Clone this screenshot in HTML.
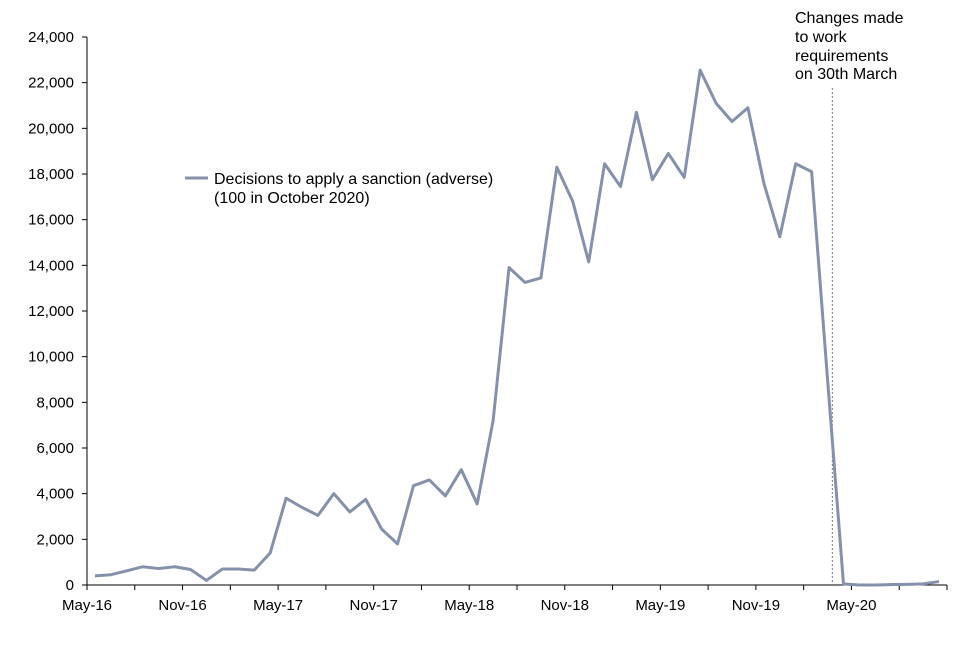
<!DOCTYPE html>
<html><head><meta charset="utf-8"><style>
body{margin:0;background:#fff;}
svg text{font-family:"Liberation Sans",Arial,sans-serif;font-size:15px;fill:#000;}
svg text.big{font-size:16px;}
</style></head><body>
<svg id="chart" width="960" height="640" viewBox="0 0 960 640" xmlns="http://www.w3.org/2000/svg">
<g id="axes"></g>
<g id="series"></g>
<g>
<line x1="185" y1="178" x2="208" y2="178" stroke="#8591aa" stroke-width="3"/>
<text class="big" x="214" y="184">Decisions to apply a sanction (adverse)</text>
<text class="big" x="214" y="203">(100 in October 2020)</text>
</g>
<g>
<text class="big" x="795" y="23">Changes made</text>
<text class="big" x="795" y="42">to work</text>
<text class="big" x="795" y="61">requirements</text>
<text class="big" x="795" y="79">on 30th March</text>
</g>
</svg>
<script>
const months = ["May-16","Jun-16","Jul-16","Aug-16","Sep-16","Oct-16","Nov-16","Dec-16","Jan-17","Feb-17","Mar-17","Apr-17","May-17","Jun-17","Jul-17","Aug-17","Sep-17","Oct-17","Nov-17","Dec-17","Jan-18","Feb-18","Mar-18","Apr-18","May-18","Jun-18","Jul-18","Aug-18","Sep-18","Oct-18","Nov-18","Dec-18","Jan-19","Feb-19","Mar-19","Apr-19","May-19","Jun-19","Jul-19","Aug-19","Sep-19","Oct-19","Nov-19","Dec-19","Jan-20","Feb-20","Mar-20","Apr-20","May-20","Jun-20","Jul-20","Aug-20","Sep-20","Oct-20"];
const values = [400,450,620,800,720,800,680,200,700,700,650,1400,3800,3400,3050,4000,3200,3750,2450,1800,4350,4600,3900,5050,3550,7200,13900,13250,13450,18300,16800,14150,18450,17450,20700,17750,18900,17850,22550,21100,20300,20900,17600,15250,18450,18100,9000,50,0,0,20,30,50,150];
const yTicks = [0,2000,4000,6000,8000,10000,12000,14000,16000,18000,20000,22000,24000];
const xLabels = ["May-16","Nov-16","May-17","Nov-17","May-18","Nov-18","May-19","Nov-19","May-20"];
const markerMonth = 46.8;

const NS="http://www.w3.org/2000/svg";
const x0=87,x1=947,y0=585,y1=37,yMax=24000;
const mw=(x1-x0)/months.length;
const xPos=i=>x0+(i+0.5)*mw;
const yPos=v=>y0-(v/yMax)*(y0-y1);
function mk(tag,attrs,parent){const e=document.createElementNS(NS,tag);for(const k in attrs)e.setAttribute(k,attrs[k]);parent.appendChild(e);return e;}
const axes=document.getElementById('axes');
const a1=mk('line',{x1:x0,y1:y1,x2:x0,y2:y0,stroke:'#000','stroke-width':1},axes);


const a2=mk('line',{x1:x0,y1:y0,x2:x1,y2:y0,stroke:'#000','stroke-width':1},axes);


yTicks.forEach(v=>{
  const y=yPos(v);
  mk('line',{x1:x0-5,y1:y,x2:x0,y2:y,stroke:'#000'},axes);
  const t=mk('text',{x:x0-13,y:y+5,'text-anchor':'end'},axes);
  t.textContent=v.toLocaleString('en-US');
  
  
});
for(let i=0;i<=months.length;i+=3){
  const x=x0+i*mw;
  mk('line',{x1:x,y1:y0,x2:x,y2:y0+5,stroke:'#000'},axes);
}
xLabels.forEach((lab,k)=>{
  const x=x0+k*6*mw;
  const t=mk('text',{x:x,y:y0+25,'text-anchor':'middle'},axes);
  t.textContent=lab;
  
  
});
const mx=x0+markerMonth*mw;
const ml=mk('line',{x1:mx,y1:88,x2:mx,y2:y0,stroke:'#777','stroke-dasharray':'2,2','stroke-width':1},axes);


const s=document.getElementById('series');
const p=mk('polyline',{points:values.map((v,i)=>xPos(i)+','+yPos(v)).join(' '),fill:'none',stroke:'#8591aa','stroke-width':3,'stroke-linejoin':'round'},s);


</script>
</body></html>
